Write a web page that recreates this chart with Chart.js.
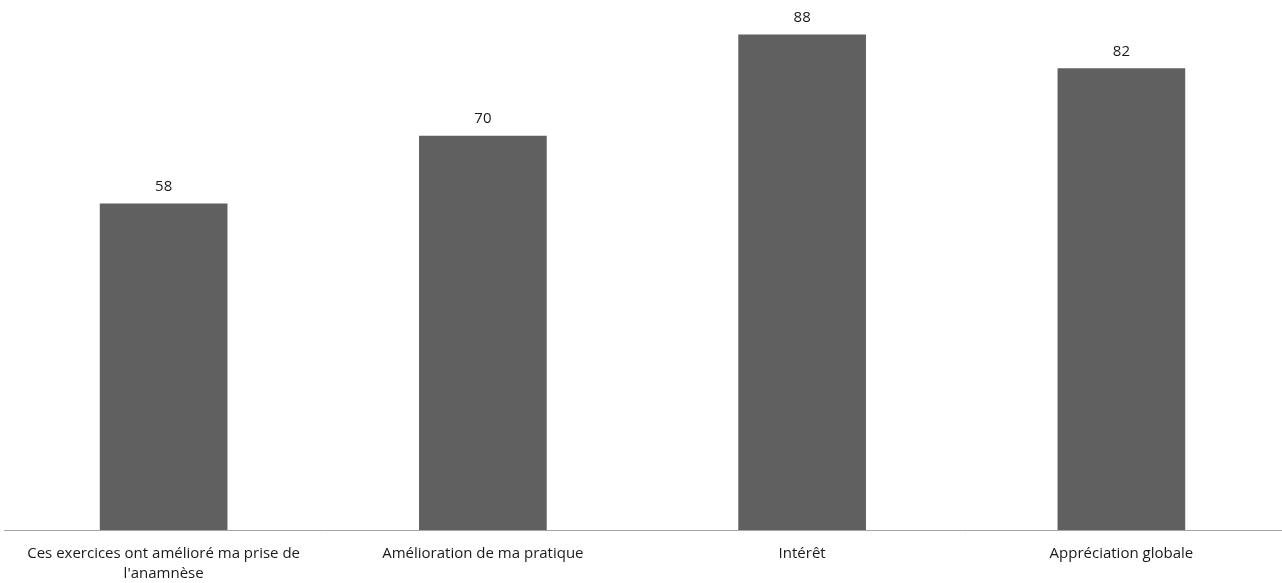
<!DOCTYPE html>
<html>
<head>
<meta charset="utf-8">
<script src="https://cdn.jsdelivr.net/npm/chart.js@4.4.1/dist/chart.umd.min.js"></script>
<style>
  html, body { margin: 0; padding: 0; background: #fff; }
  #wrap { width: 1282px; height: 583px; position: relative; }
</style>
</head>
<body>
<div id="wrap"><canvas id="barChart"></canvas></div>
<script>
var categories = [
  ["Ces exercices ont amélioré ma prise de", "l'anamnèse"],
  "Amélioration de ma pratique",
  "Intérêt",
  "Appréciation globale"
];
var scores = [58, 70, 88, 82];

// value labels above each bar
var valueLabels = {
  id: 'valueLabels',
  afterDatasetsDraw: function(chart) {
    var ctx = chart.ctx;
    var meta = chart.getDatasetMeta(0);
    ctx.save();
    ctx.font = '15px "Open Sans", sans-serif';
    ctx.fillStyle = '#1a1a1a';
    ctx.textAlign = 'center';
    ctx.textBaseline = 'middle';
    meta.data.forEach(function(bar, i) {
      ctx.fillText(scores[i], bar.x, bar.y - 17);
    });
    ctx.restore();
  }
};

var ctx = document.getElementById('barChart').getContext('2d');
var myBarChart = new Chart(ctx, {
  type: 'bar',
  data: {
    labels: categories,
    datasets: [{
      data: scores,
      backgroundColor: '#606060',
      categoryPercentage: 0.4,
      barPercentage: 1.0
    }]
  },
  options: {
    responsive: true,
    maintainAspectRatio: false,
    animation: false,
    layout: { padding: { top: 12, left: 4, right: 1, bottom: 0 } },
    plugins: {
      legend: { display: false },
      tooltip: { enabled: false }
    },
    scales: {
      x: {
        grid: { display: false },
        border: { display: true, color: '#a6a6a6', width: 1 },
        ticks: {
          color: '#1a1a1a',
          font: { family: '"Open Sans", sans-serif', size: 15, lineHeight: 1.3 },
          padding: 6,
          maxRotation: 0
        },
        afterFit: function(scale) { scale.height = 53; }
      },
      y: {
        display: false,
        min: 0,
        max: 92
      }
    }
  },
  plugins: [valueLabels]
});
</script>
</body>
</html>
